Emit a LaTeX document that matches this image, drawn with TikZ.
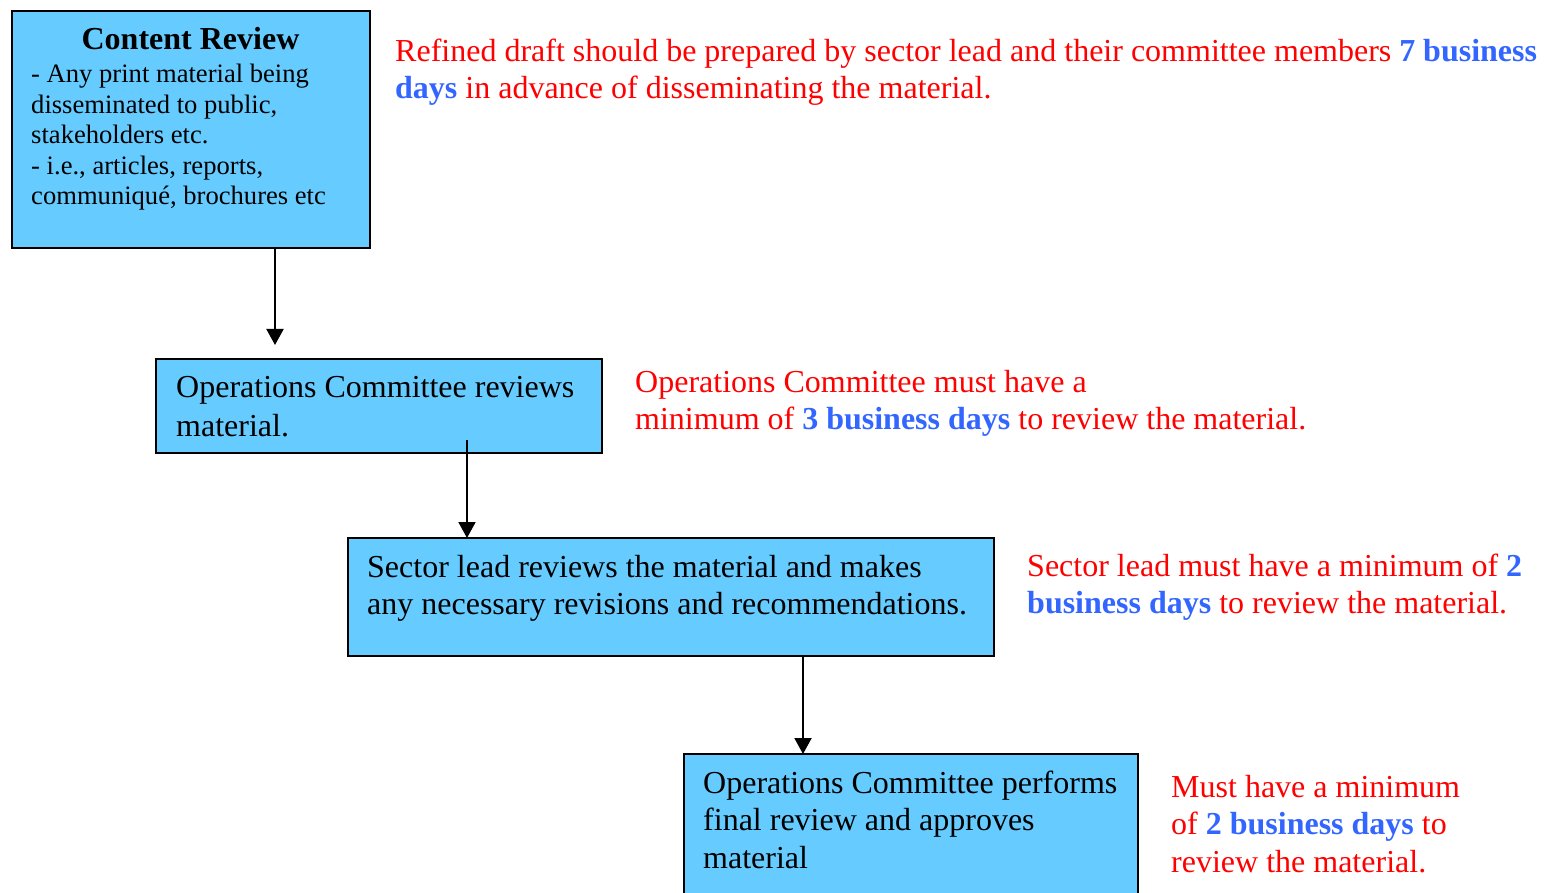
\documentclass[tikz,border=0pt]{standalone}
\usepackage{fontspec}
\setmainfont{Liberation Serif}
\usetikzlibrary{arrows.meta}
\definecolor{boxfill}{HTML}{66CCFF}
\definecolor{notered}{HTML}{FF0000}
\definecolor{dayblue}{HTML}{3366FF}
\newcommand\bigstr{\rule[-9pt]{0pt}{37.5pt}}
\newcommand\boxstr{\rule[-9pt]{0pt}{38pt}}
\newcommand\smallstr{\rule[-7.5pt]{0pt}{30.5pt}}
\newcommand\days[1]{\textcolor{dayblue}{\textbf{#1}}}
\begin{document}
\begin{tikzpicture}[x=1pt,y=-1pt,
  stepbox/.style={draw=black,fill=boxfill,line width=2pt,rectangle,inner sep=0pt,outer sep=0pt,anchor=north west},
  bigtext/.style={anchor=north west,inner sep=0pt,align=left,font=\fontsize{32}{37.5}\selectfont},
  smalltext/.style={anchor=north west,inner sep=0pt,align=left,font=\fontsize{26.6}{30.5}\selectfont},
  notetext/.style={bigtext,text=notered},
  arr/.style={draw=black,line width=2pt,-{Triangle[width=17pt,length=16pt]}}]
\useasboundingbox (0,0) rectangle (1553,893);
\clip (0,0) rectangle (1553,893);
% boxes
\node[stepbox,minimum width=358pt,minimum height=237pt] (box1) at (12,11) {};
\node[stepbox,minimum width=446pt,minimum height=94pt] (box2) at (156,359) {};
\node[stepbox,minimum width=646pt,minimum height=118pt] (box3) at (348,538) {};
\node[stepbox,minimum width=454pt,minimum height=170pt] (box4) at (684,754) {};
% box texts
\node[anchor=base,inner sep=0pt,font=\fontsize{32}{37.5}\selectfont\bfseries] (title1) at (190.5,50) {Content Review};
\node[smalltext] (text1) at (31,59.5) {\smallstr- Any print material being\\\smallstr disseminated to public,\\\smallstr stakeholders etc.\\\smallstr - i.e., articles, reports,\\\smallstr communiqué, brochures etc};
\node[bigtext] (text2) at (176,368.5) {\boxstr Operations Committee reviews\\\boxstr material.};
\node[bigtext] (text3) at (367,548.5) {\bigstr Sector lead reviews the material and makes\\\bigstr any necessary revisions and recommendations.};
\node[bigtext] (text4) at (703,764.5) {\bigstr Operations Committee performs\\\bigstr final review and approves\\\bigstr material};
% notes
\node[notetext] (note1) at (395,32.5) {\bigstr Refined draft should be prepared by sector lead and their committee members \days{7 business}\\\bigstr\days{days} in advance of disseminating the material.};
\node[notetext] (note2) at (635,363.5) {\bigstr Operations Committee must have a\\\bigstr minimum of \days{3 business days} to review the material.};
\node[notetext] (note3) at (1027,547.5) {\bigstr Sector lead must have a minimum of \days{2}\\\bigstr\days{business days} to review the material.};
\node[notetext] (note4) at (1171,768.5) {\bigstr Must have a minimum\\\bigstr of \days{2 business days} to\\\bigstr review the material.};
% connectors
\coordinate (a1end) at (275,345);
\coordinate (a2start) at (467,440);
\coordinate (a3x) at (803,0);
\draw[arr] (box1.south -| a1end) -- (a1end);
\draw[arr] (a2start) -- (a2start |- box3.north);
\draw[arr] (box3.south -| a3x) -- (box4.north -| a3x);
\end{tikzpicture}
\end{document}
